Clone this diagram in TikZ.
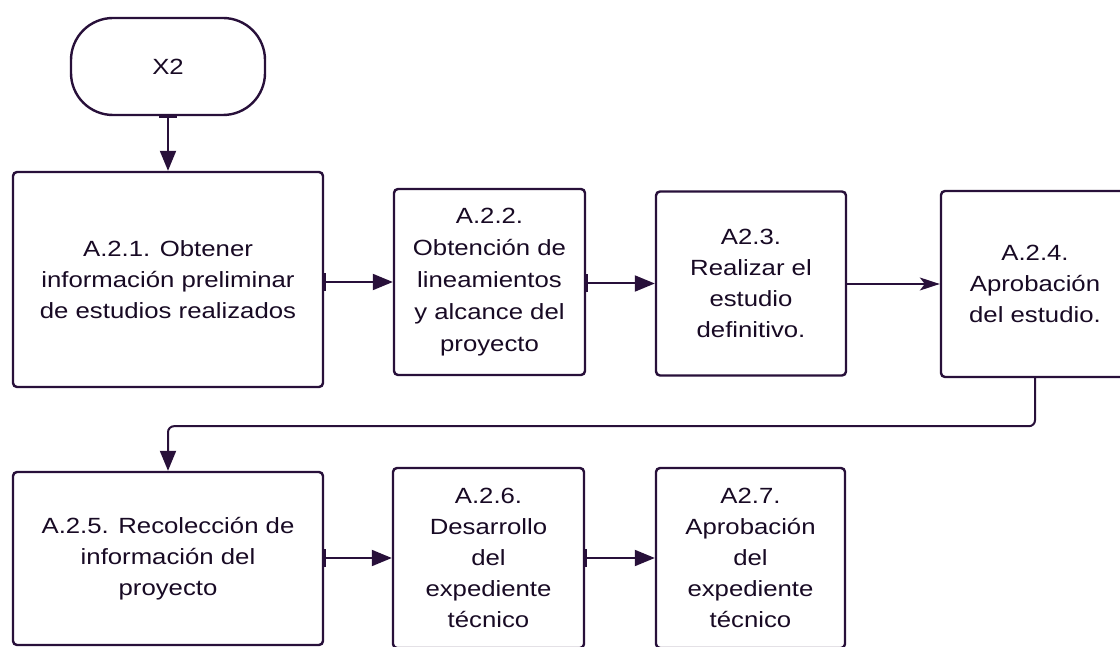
\documentclass[tikz,border=0pt]{standalone}
\usepackage{fontspec}
\setmainfont{Liberation Sans}[FakeStretch=1.17]
\usetikzlibrary{arrows.meta}
\definecolor{linec}{RGB}{40,16,58}
\definecolor{textc}{RGB}{24,10,36}
\begin{document}
\begin{tikzpicture}[x=1pt,y=-1pt,
  box/.style={draw=linec, line width=2.4pt, rounded corners=4pt, align=center,
    text=textc, inner sep=0pt, font=\fontsize{22}{31}\selectfont},
  term/.style={draw=linec, line width=2.4pt, rounded corners=42pt, align=center,
    text=textc, inner sep=0pt, font=\fontsize{22}{31}\selectfont},
  conn/.style={draw=linec, line width=2pt, {Bar[width=18pt,line width=2pt]}-{Triangle[length=20pt,width=16pt]}},
  thinconn/.style={draw=linec, line width=1.3pt, -{Stealth[length=20pt,width=13pt,inset=5pt]}}
]
\useasboundingbox (0,0) rectangle (1120,647);
\fill[white] (0,0) rectangle (1120,647);

\node[term, minimum width=194pt, minimum height=97pt] (x2) at (168,66.5) {X2};

\node[box, minimum width=310pt, minimum height=215pt] (a1) at (168,279.5)
  {A.2.1. Obtener\\información preliminar\\de estudios realizados};
\node[box, minimum width=191pt, minimum height=186pt, font=\fontsize{22}{32}\selectfont] (a2) at (489.5,282)
  {A.2.2.\\Obtención de\\lineamientos\\y alcance del\\proyecto};
\node[box, minimum width=190pt, minimum height=184pt] (a3) at (751,283.5)
  {A2.3.\\Realizar el\\estudio\\definitivo.};
\node[box, minimum width=188pt, minimum height=186pt] (a4) at (1035,284)
  {A.2.4.\\Aprobación\\del estudio.};

\node[box, minimum width=310pt, minimum height=173pt] (a5) at (168,558.5)
  {A.2.5. Recolección de\\información del\\proyecto};
\node[box, minimum width=191pt, minimum height=180pt] (a6) at (488.5,558)
  {A.2.6.\\Desarrollo\\del\\expediente\\técnico};
\node[box, minimum width=189pt, minimum height=180pt] (a7) at (750.5,558)
  {A2.7.\\Aprobación\\del\\expediente\\técnico};

\draw[conn] (x2.south) -- (a1.north);
\draw[conn] (a1.east |- a2.west) -- (a2.west);
\draw[conn] (a2.east |- a3.west) -- (a3.west);
\draw[thinconn] (a3.east |- a4.west) -- (a4.west);
\draw[draw=linec, line width=2pt, rounded corners=6pt, -{Triangle[length=20pt,width=16pt]}]
  (a4.south) -- ++(0,48) -| (a5.north);
\draw[conn] (a5.east |- a6.west) -- (a6.west);
\draw[conn] (a6.east |- a7.west) -- (a7.west);
\end{tikzpicture}
\end{document}
